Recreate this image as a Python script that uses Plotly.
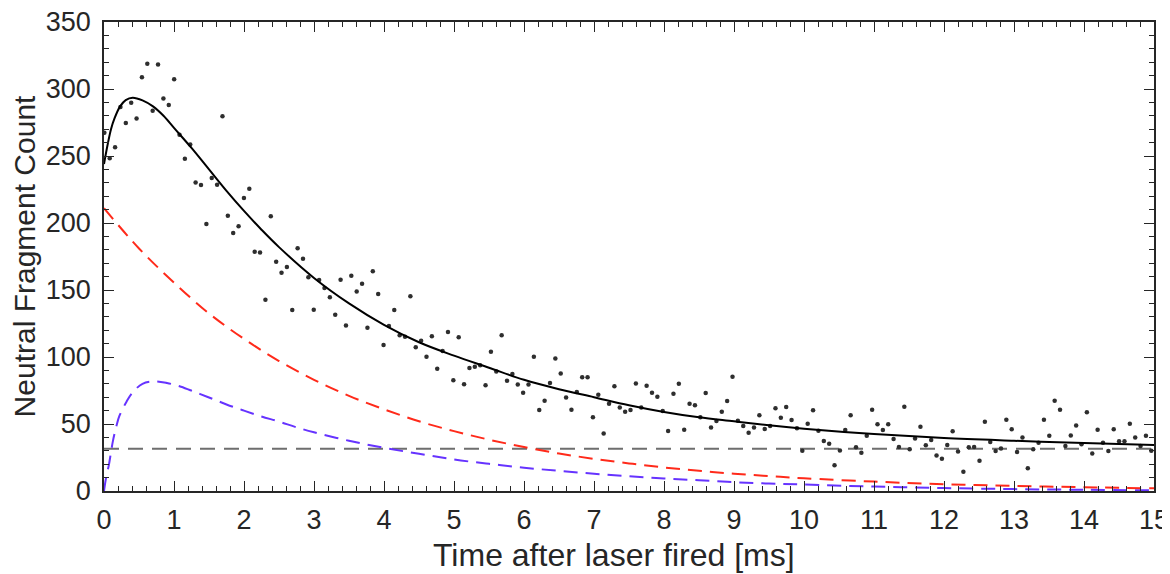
import plotly.graph_objects as go

# ---- data ----
T_START = 0.005   # ms, first bin
T_STEP = 0.0767   # ms, bin width
counts = [
    267.4, 248.3, 256.5, 286.6, 274.6, 289.8, 277.9, 308.7, 318.9, 283.8,
    318.2, 293.0, 288.1, 307.2, 265.9, 248.0, 258.5, 230.3, 228.4, 199.3,
    233.6, 228.6, 279.6, 205.5, 192.5, 197.5, 218.7, 225.6, 178.6, 177.9,
    142.8, 205.0, 171.1, 162.9, 167.2, 135.1, 181.1, 173.4, 159.5, 135.3,
    157.5, 151.5, 144.5, 131.6, 157.7, 123.6, 160.7, 148.8, 154.7, 121.9,
    163.9, 147.0, 109.0, 123.1, 135.1, 116.2, 115.2, 145.3, 107.2, 112.2,
    100.2, 115.4, 91.3, 104.5, 118.7, 82.6, 114.7, 79.6, 91.8, 92.8,
    93.8, 78.9, 104.0, 89.1, 116.2, 82.3, 87.3, 79.4, 73.4, 79.4,
    100.2, 60.4, 67.4, 80.6, 98.8, 87.6, 69.7, 60.7, 73.9, 84.8,
    84.8, 55.0, 71.9, 43.0, 65.2, 78.1, 62.4, 59.2, 60.4, 80.3,
    62.4, 78.6, 73.4, 70.4, 59.7, 44.8, 72.6, 80.1, 45.8, 65.2,
    63.9, 55.0, 73.1, 47.3, 52.2, 59.2, 67.2, 85.3, 52.5, 48.5,
    43.5, 47.3, 56.5, 46.3, 48.5, 61.7, 54.7, 62.7, 53.0, 46.8,
    30.1, 50.2, 60.2, 45.0, 37.3, 35.3, 19.2, 30.3, 45.5, 56.5,
    32.6, 28.6, 41.3, 60.7, 49.8, 45.5, 49.8, 38.8, 32.8, 62.9,
    31.1, 39.1, 48.0, 34.1, 38.1, 26.4, 24.1, 34.3, 44.5, 29.4,
    14.4, 32.6, 32.8, 22.6, 51.7, 36.6, 29.9, 31.8, 53.2, 46.0,
    29.1, 40.0, 16.9, 31.1, 36.1, 53.2, 41.3, 67.4, 60.7, 33.6,
    41.5, 48.8, 34.8, 58.7, 27.9, 45.8, 36.1, 29.9, 46.0, 37.1,
    37.1, 50.2, 40.0, 33.6, 41.3, 30.1,
]
time_ms = [round(T_START + i * T_STEP, 4) for i in range(len(counts))]

# total fit (black solid)
fit_t = [0, 0.05, 0.1, 0.15, 0.23, 0.31, 0.41, 0.55, 0.7, 0.85, 1.0, 1.25, 1.5,
         1.75, 2.0, 2.25, 2.5, 3.0, 3.5, 4.0, 4.5, 5.0, 5.5, 6.0, 6.5, 7.0, 7.5,
         8.0, 8.5, 9.0, 9.5, 10, 11, 12, 13, 14, 15]
fit_v = [244, 258, 270, 278, 287, 291.7, 293.5, 291.5, 287, 280, 271, 256, 240,
         224, 209, 195, 182, 159, 140, 124, 111, 101, 92, 83, 76, 70, 64,
         59, 55, 52, 49, 46.5, 42.5, 39.5, 37.5, 35.8, 34.4]

# single-exponential component (red dashed)
red_t = [0, 0.5, 1, 1.5, 2, 2.5, 3, 3.5, 4, 4.5, 5, 5.5, 6, 6.5, 7, 7.5, 8,
         8.5, 9, 9.5, 10, 11, 12, 13, 14, 15]
red_v = [211, 181, 155.5, 132.5, 113.5, 97, 83, 71, 61, 52, 44.7, 38.3, 32.8,
         28, 24, 20.6, 17.6, 15.1, 12.9, 11.1, 9.5, 7.0, 5.1, 3.8, 2.8, 2.0]

# rise-and-decay component (blue dashed)
blue_t = [0, 0.03, 0.07, 0.1, 0.13, 0.18, 0.22, 0.32, 0.4, 0.55, 0.72, 0.9, 1.1,
          1.3, 1.5, 1.75, 2, 2.25, 2.5, 2.75, 3, 3.5, 4, 4.5, 5, 5.5, 6, 6.5,
          7, 7.5, 8, 8.5, 9, 9.5, 10, 11, 12, 13, 14, 15]
blue_v = [0, 10, 19.5, 29, 38, 49, 56, 66.5, 73, 80, 81.8, 80.6, 77.8,
          73.8, 69.8, 64.6, 60, 55.6, 51.8, 47.5, 43.8, 37.5, 32.2, 27.8, 23.5,
          20.3, 17.4, 15, 12.9, 11, 9.4, 8, 6.6, 5.6, 4.8, 3.3, 2.2, 1.4, 0.9, 0.5]

# constant background (gray dashed)
bg_t = [0, 15]
bg_v = [31.5, 31.5]

x_ticks = list(range(0, 16))
y_ticks = list(range(0, 351, 50))

FONT = "Liberation Sans, Arial, Helvetica, sans-serif"
TXT = "#262626"

fig = go.Figure()
fig.add_trace(go.Scatter(x=bg_t, y=bg_v, mode="lines",
                         line=dict(color="#6e6e6e", width=2, dash="15px,9px")))
fig.add_trace(go.Scatter(x=blue_t, y=blue_v, mode="lines", line_shape="spline",
                         line=dict(color="#6633ff", width=2, dash="14px,8px")))
fig.add_trace(go.Scatter(x=red_t, y=red_v, mode="lines", line_shape="spline",
                         line=dict(color="#ff2a1a", width=2, dash="14px,8px")))
fig.add_trace(go.Scatter(x=time_ms, y=counts, mode="markers",
                         marker=dict(color="#2e2e2e", size=4.5)))
fig.add_trace(go.Scatter(x=fit_t, y=fit_v, mode="lines", line_shape="spline",
                         line=dict(color="black", width=2)))

axis_common = dict(
    showline=True, linecolor=TXT, linewidth=1.5, mirror="allticks",
    ticks="inside", ticklen=10, tickwidth=1.3, tickcolor=TXT,
    showgrid=False, zeroline=False, automargin=False,
    ticklabeloverflow="allow",
    tickfont=dict(family=FONT, size=27, color=TXT),
)

# the page body adds an 8 px offset, so the figure is 8 px smaller each way
fig.update_layout(
    width=1162, height=566,
    margin=dict(l=96, r=16, t=14, b=83),
    paper_bgcolor="white", plot_bgcolor="white",
    showlegend=False,
    font=dict(family=FONT, color=TXT),
    xaxis=dict(
        range=[0, 15], tickvals=x_ticks, ticklabelstandoff=4,
        minor=dict(ticks="inside", ticklen=5, dtick=0.2, tickcolor=TXT, tickwidth=1.3),
        **axis_common,
    ),
    yaxis=dict(
        range=[0, 350], tickvals=y_ticks, ticklabelstandoff=6,
        title=dict(text="Neutral Fragment Count",
                   font=dict(family=FONT, size=30, color=TXT), standoff=2),
        minor=dict(ticks="inside", ticklen=5, dtick=10, tickcolor=TXT, tickwidth=1.3),
        **axis_common,
    ),
    annotations=[dict(
        text="Time after laser fired [ms]", xref="paper", yref="paper",
        x=0.486, y=0, xanchor="center", yanchor="middle", yshift=-64,
        showarrow=False, font=dict(family=FONT, size=32, color=TXT),
    )],
)

fig.write_html("out.html")
